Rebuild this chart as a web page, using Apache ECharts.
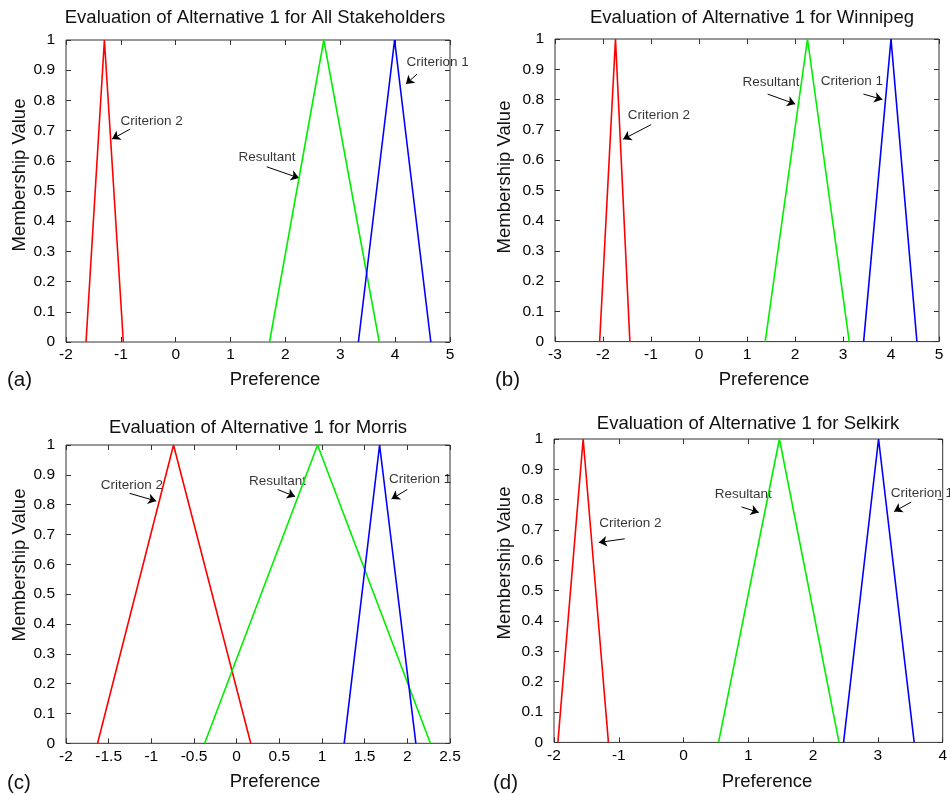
<!DOCTYPE html>
<html><head><meta charset="utf-8">
<script src="https://cdn.jsdelivr.net/npm/echarts@6/dist/echarts.min.js"></script>
<style>html,body{margin:0;padding:0;background:#fff}#c{width:950px;height:795px}</style>
</head><body><div id="c"></div>
<script>
// ---------- data ----------
const panelTitles = [
  'Evaluation of Alternative 1 for All Stakeholders',
  'Evaluation of Alternative 1 for Winnipeg',
  'Evaluation of Alternative 1 for Morris',
  'Evaluation of Alternative 1 for Selkirk'
];
const panelLetters = ['(a)', '(b)', '(c)', '(d)'];
const xAxisName = 'Preference';
const yAxisName = 'Membership Value';
const xMin = [-2, -3, -2, -2];
const xMax = [5, 5, 2.5, 4];
const xStep = [1, 1, 0.5, 1];
const yMin = 0, yMax = 1, yStep = 0.1;

const membership = [0, 1, 0];
const criterion1X = [[3.33, 3.99, 4.65], [3.43, 4.00, 4.54], [1.26, 1.675, 2.10], [2.47, 3.01, 3.56]];
const criterion2X = [[-1.635, -1.30, -0.955], [-2.07, -1.74, -1.44], [-1.63, -0.74, 0.165], [-1.94, -1.55, -1.16]];
const resultantX  = [[1.71, 2.70, 3.71], [1.38, 2.26, 3.13], [-0.375, 0.948, 2.27], [0.54, 1.48, 2.40]];

const annotationNames = ['Criterion 1', 'Criterion 2', 'Resultant'];
// text anchor (left edge, vertical middle) per panel, same order as annotationNames
const annotationText = [
  [[4.198, 0.926], [-1.016, 0.73], [1.135, 0.61]],
  [[2.525, 0.86], [-1.495, 0.749], [0.897, 0.857]],
  [[1.778, 0.885], [-1.598, 0.865], [0.138, 0.879]],
  [[3.19, 0.822], [-1.308, 0.721], [0.472, 0.819]]
];
// arrows: [tailX, tailY, headX, headY]
const annotationArrows = [
  [[4.398, 0.887, 4.197, 0.854], [-0.83, 0.705, -1.16, 0.672], [1.66, 0.58, 2.247, 0.543]],
  [[3.426, 0.818, 3.82, 0.80], [-0.996, 0.717, -1.58, 0.669], [1.43, 0.818, 2.005, 0.785]],
  [[2.0, 0.851, 1.815, 0.819], [-1.255, 0.838, -0.943, 0.812], [0.48, 0.851, 0.685, 0.827]],
  [[3.514, 0.792, 3.25, 0.761], [-0.909, 0.671, -1.308, 0.659], [0.895, 0.776, 1.161, 0.758]]
];

// ---------- layout ----------
const grids = [
  {left: 66, top: 40, width: 384, height: 302},
  {left: 555, top: 39, width: 384, height: 302.6},
  {left: 66, top: 445, width: 384, height: 298.3},
  {left: 554, top: 439, width: 390, height: 303.4}
];
const titlePos = [[255, 18], [752, 18], [258, 428], [748, 424]];
const xNamePos = [[275, 380], [764, 380], [275, 782], [767, 782]];
const yNamePos = [[20, 175], [505, 177], [20, 565], [505, 563]];
const letterPos = [[7, 380], [495, 380], [7, 783], [493, 783]];

const FONT = '"Liberation Sans", Arial, sans-serif';
const axisColor = '#333';
const tickLabel = {color: '#000', fontSize: 15.5, fontFamily: FONT};

const option = {
  animation: false,
  backgroundColor: '#fff',
  grid: [], xAxis: [], yAxis: [], series: [], graphic: []
};

for (let p = 0; p < 4; p++) {
  option.grid.push(Object.assign({show: true, borderColor: axisColor, borderWidth: 1, backgroundColor: 'transparent'}, grids[p]));
  const xBase = {gridIndex: p, type: 'value', min: xMin[p], max: xMax[p], interval: xStep[p],
    splitLine: {show: false}, axisLine: {show: false, onZero: false},
    axisTick: {show: true, inside: true, length: 5, lineStyle: {color: axisColor}}};
  const yBase = {gridIndex: p, type: 'value', min: yMin, max: yMax, interval: yStep,
    splitLine: {show: false}, axisLine: {show: false, onZero: false},
    axisTick: {show: true, inside: true, length: 5, lineStyle: {color: axisColor}}};
  option.xAxis.push(Object.assign({}, xBase, {position: 'bottom', axisLabel: Object.assign({margin: 5}, tickLabel)}));
  option.xAxis.push(Object.assign({}, xBase, {position: 'top', axisLabel: {show: false}}));
  option.yAxis.push(Object.assign({}, yBase, {position: 'left', axisLabel: Object.assign({margin: 11}, tickLabel)}));
  option.yAxis.push(Object.assign({}, yBase, {position: 'right', axisLabel: {show: false}}));

  const xi = 2 * p, yi = 2 * p;
  const lines = [[criterion2X[p], '#ff0000'], [resultantX[p], '#00ee00'], [criterion1X[p], '#0000ff']];
  lines.forEach(([xs, col]) => {
    option.series.push({type: 'line', xAxisIndex: xi, yAxisIndex: yi, showSymbol: false, symbol: 'none',
      data: xs.map((x, i) => [x, membership[i]]),
      lineStyle: {color: col, width: 1.6}, silent: true});
  });
  option.series.push({type: 'scatter', xAxisIndex: xi, yAxisIndex: yi, symbolSize: 1,
    itemStyle: {color: 'rgba(0,0,0,0)'}, silent: true,
    data: annotationText[p].map((t, i) => [t[0], t[1], annotationNames[i]]),
    label: {show: true, position: 'right', distance: 0, color: '#000', fontSize: 13.5, fontFamily: FONT,
      formatter: q => q.value[2]}});
  option.series.push({type: 'lines', coordinateSystem: 'cartesian2d', xAxisIndex: xi, yAxisIndex: yi,
    symbol: ['none', 'arrow'], symbolSize: [0, 8], silent: true,
    lineStyle: {color: '#000', width: 1, opacity: 1},
    data: annotationArrows[p].map(a => ({coords: [[a[0], a[1]], [a[2], a[3]]]}))});

  option.graphic.push({type: 'text', x: titlePos[p][0], y: titlePos[p][1],
    style: {text: panelTitles[p], textAlign: 'center', textVerticalAlign: 'middle', fill: '#111', font: '18.5px ' + FONT}});
  option.graphic.push({type: 'text', x: xNamePos[p][0], y: xNamePos[p][1],
    style: {text: xAxisName, textAlign: 'center', textVerticalAlign: 'middle', fill: '#111', font: '18.5px ' + FONT}});
  option.graphic.push({type: 'text', x: yNamePos[p][0], y: yNamePos[p][1], rotation: Math.PI / 2,
    style: {text: yAxisName, textAlign: 'center', textVerticalAlign: 'middle', fill: '#111', font: '18.5px ' + FONT}});
  option.graphic.push({type: 'text', x: letterPos[p][0], y: letterPos[p][1],
    style: {text: panelLetters[p], textAlign: 'left', textVerticalAlign: 'middle', fill: '#111', font: '20.5px ' + FONT}});
}

const chart = echarts.init(document.getElementById('c'), null, {renderer: 'canvas'});
chart.setOption(option);
</script>
</body></html>
